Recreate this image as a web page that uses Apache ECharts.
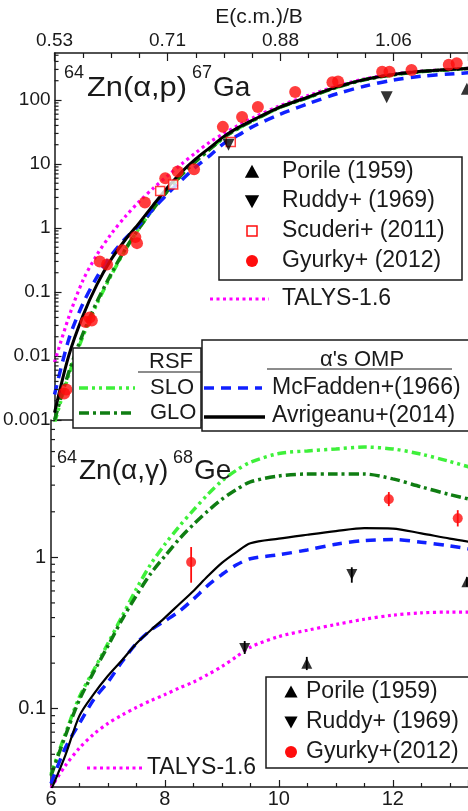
<!DOCTYPE html>
<html>
<head>
<meta charset="utf-8">
<script src="https://cdn.jsdelivr.net/npm/echarts@6/dist/echarts.min.js"></script>
<style>
  html, body { margin: 0; padding: 0; background: #fff; }
  #chart { width: 468px; height: 811px; }
</style>
</head>
<body>
<div id="chart"></div>
<script>
// ---- energy grid (MeV, c.m.) on which the model curves are tabulated ----
const energy = [6.0, 6.25, 6.5, 6.75, 7.0, 7.25, 7.5, 7.75, 8.0, 8.25, 8.5, 8.75, 9.0, 9.25, 9.5, 10.0, 10.5, 11.0, 11.5, 12.0, 12.5, 13.0, 13.5];

// ---- 64Zn(a,p)67Ga cross sections (mb) ----
const apSLO        = [0.0009, 0.005, 0.02, 0.065, 0.18, 0.45, 1.0, 2.0, 3.8, 6.8, 11, 17, 26, 36, 47, 77, 110, 158, 208, 248, 278, 298, 316];
const apGLO        = [0.001, 0.0055, 0.022, 0.07, 0.19, 0.46, 1.0, 2.0, 3.8, 6.8, 11, 17, 26, 36, 47, 77, 110, 158, 208, 248, 278, 298, 316];
const apMcFadden   = [0.0025, 0.018, 0.065, 0.17, 0.37, 0.68, 1.12, 2.0, 3.4, 5.6, 9, 13.5, 21, 28, 38, 60, 88, 125, 165, 205, 235, 255, 272];
const apAvrigeanu  = [0.0013, 0.01, 0.042, 0.13, 0.32, 0.65, 1.2, 2.3, 4.3, 7.5, 12, 18, 27, 37, 48, 78, 112, 160, 210, 250, 280, 300, 318];
const apTALYS      = [0.008, 0.04, 0.15, 0.38, 0.8, 1.5, 2.6, 4.2, 6.5, 10, 15, 22, 30, 40, 52, 82, 118, 165, 215, 255, 283, 302, 320];

// measurements [E, sigma]
const apPorile  = [[13.3, 150]];
const apRuddy   = [[9.08, 20], [11.88, 110]];
const apScuderi = [[7.87, 3.8], [8.1, 4.8], [9.12, 22]];
const apGyurky  = [[6.17, 0.0026], [6.21, 0.003], [6.55, 0.034], [6.62, 0.04], [6.66, 0.036], [6.8, 0.3], [6.93, 0.27],
                   [7.2, 0.45], [7.43, 0.72], [7.46, 0.58], [7.6, 2.5], [7.96, 6.0], [8.18, 7.6], [8.47, 8.3],
                   [8.98, 38], [9.32, 54], [9.6, 78], [10.26, 133], [10.92, 190], [11.02, 195], [11.8, 275],
                   [11.93, 275], [12.32, 295], [12.98, 355], [13.12, 375]];

// ---- 64Zn(a,g)68Ge cross sections (mb) ----
const agSLO        = [0.037, 0.068, 0.12, 0.18, 0.27, 0.41, 0.62, 0.9, 1.22, 1.6, 2.05, 2.6, 3.2, 3.75, 4.25, 4.85, 5.05, 5.2, 5.35, 5.2, 4.8, 4.3, 3.8];
const agGLO        = [0.036, 0.066, 0.115, 0.175, 0.26, 0.39, 0.56, 0.78, 1.02, 1.32, 1.65, 2.02, 2.42, 2.8, 3.15, 3.45, 3.55, 3.55, 3.55, 3.3, 2.92, 2.6, 2.35];
const agMcFadden   = [0.032, 0.055, 0.08, 0.115, 0.15, 0.205, 0.27, 0.33, 0.38, 0.44, 0.53, 0.65, 0.77, 0.89, 0.98, 1.04, 1.12, 1.22, 1.29, 1.31, 1.26, 1.19, 1.11];
const agAvrigeanu  = [0.029, 0.049, 0.09, 0.125, 0.165, 0.21, 0.27, 0.33, 0.4, 0.49, 0.6, 0.75, 0.92, 1.08, 1.24, 1.33, 1.41, 1.49, 1.56, 1.55, 1.44, 1.33, 1.24];
const agTALYS      = [0.03, 0.042, 0.055, 0.068, 0.08, 0.091, 0.102, 0.113, 0.124, 0.137, 0.15, 0.168, 0.19, 0.22, 0.255, 0.3, 0.33, 0.36, 0.39, 0.415, 0.43, 0.435, 0.435];

// measurements [E, sigma, low, high]
const agPorile = [[10.49, 0.2, 0.18, 0.22], [13.3, 0.69, 0.64, 0.74]];
const agRuddy  = [[9.4, 0.25, 0.23, 0.28], [11.28, 0.77, 0.68, 0.86]];
const agGyurky = [[8.46, 0.93, 0.68, 1.17], [11.93, 2.42, 2.18, 2.7], [13.14, 1.81, 1.6, 2.05]];

// ---- axes ----
const E_MIN = 6, E_MAX = 13.32;
const energyTicks  = [6, 8, 10, 12];
const energyLabels = ['6', '8', '10', '12'];
const ebLabels     = ['0.53', '0.71', '0.88', '1.06'];      // E(c.m.)/B at the same ticks
const apYMin = 0.001, apYMax = 542;
const apYTicks  = [0.001, 0.01, 0.1, 1, 10, 100];
const apYLabels = ['0.001', '0.01', '0.1', '1', '10', '100'];
const agYMin = 0.0304, agYMax = 8.08;
const agYTicks  = [0.1, 1];
const agYLabels = ['0.1', '1'];

const FONT = 'Liberation Sans, Arial, Helvetica, sans-serif';
const INK = '#1a1a1a';
const C = { slo: '#3ef03a', glo: '#0f7d12', mcf: '#1020ff', avr: '#000000', talys: '#ff00ff', red: '#ff0d0d' };
const STY = {
  slo:   { color: C.slo,   width: 3.5, type: [9, 4, 3, 4, 3, 4] },
  glo:   { color: C.glo,   width: 3.5, type: [10, 4, 3, 4] },
  mcf:   { color: C.mcf,   width: 3.5, type: [10, 7] },
  talys: { color: C.talys, width: 3.2, type: [3, 3.5] }
};

function minorDecades(lo, hi) {
  const out = [];
  for (let k = Math.floor(Math.log10(lo)); k <= Math.ceil(Math.log10(hi)); k++) {
    for (let m = 2; m <= 9; m++) {
      const v = m * Math.pow(10, k);
      if (v > lo && v < hi) out.push(v);
    }
  }
  return out;
}
const apMinor = minorDecades(apYMin, apYMax);
const agMinor = minorDecades(agYMin, agYMax);

function labelFor(ticks, labels) {
  return function (v) {
    for (let i = 0; i < ticks.length; i++) {
      if (Math.abs(Math.log10(v) - Math.log10(ticks[i])) < 1e-6) return labels[i];
    }
    return '';
  };
}

function pairs(xs, ys) { return xs.map((x, i) => [x, ys[i]]); }

function curve(name, xi, yi, ys, ls) {
  return {
    type: 'line', name, xAxisIndex: xi, yAxisIndex: yi, data: pairs(energy, ys),
    showSymbol: false, symbol: 'none', smooth: 0.3, silent: true, z: 3,
    lineStyle: { color: ls.color, width: ls.width, type: ls.type, cap: 'butt' }
  };
}

function minorTickSeries(xi, yi, values) {
  return {
    type: 'custom', xAxisIndex: xi, yAxisIndex: yi, silent: true, z: 6, clip: false,
    data: values.map(v => [E_MIN, v]),
    renderItem: function (params, api) {
      const p = api.coord([api.value(0), api.value(1)]);
      return { type: 'line', shape: { x1: p[0], y1: p[1], x2: p[0] + 4, y2: p[1] },
               style: { stroke: INK, lineWidth: 1.2 } };
    }
  };
}

function errorBars(xi, yi, rows, color) {
  return {
    type: 'custom', xAxisIndex: xi, yAxisIndex: yi, silent: true, z: 4,
    data: rows.map(r => [r[0], r[2], r[3]]),
    renderItem: function (params, api) {
      const a = api.coord([api.value(0), api.value(1)]);
      const b = api.coord([api.value(0), api.value(2)]);
      return { type: 'line', shape: { x1: a[0], y1: a[1], x2: b[0], y2: b[1] },
               style: { stroke: color, lineWidth: 1.8 } };
    }
  };
}

const axisLine = { show: true, lineStyle: { color: INK, width: 1.5 } };

// ---- legend / annotation graphics ----
function txt(x, y, s, size, align, sx) {
  return { type: 'text', x, y, z: 20, scaleX: sx || 1,
           style: { text: s, fontSize: size, fontFamily: FONT, fill: INK, align: align || 'left', verticalAlign: 'middle' } };
}
function seg(x1, y1, x2, y2, ls) {
  return { type: 'line', z: 20, shape: { x1, y1, x2, y2 },
           style: { stroke: ls.color, lineWidth: ls.width, lineDash: ls.type === 'solid' ? null : ls.type } };
}
function box(x, y, w, h) {
  return { type: 'rect', z: 19, shape: { x, y, width: w, height: h },
           style: { fill: '#fff', stroke: INK, lineWidth: 1.5 } };
}
function triUp(cx, cy, s) {
  return { type: 'polygon', z: 20, shape: { points: [[cx, cy - s * 0.55], [cx + s * 0.55, cy + s * 0.45], [cx - s * 0.55, cy + s * 0.45]] },
           style: { fill: '#000' } };
}
function triDown(cx, cy, s) {
  return { type: 'polygon', z: 20, shape: { points: [[cx, cy + s * 0.55], [cx + s * 0.55, cy - s * 0.45], [cx - s * 0.55, cy - s * 0.45]] },
           style: { fill: '#000' } };
}
function dot(cx, cy, r) {
  return { type: 'circle', z: 20, shape: { cx, cy, r }, style: { fill: C.red } };
}

const graphics = [
  // top axis title
  txt(259, 17, 'E(c.m.)/B', 21, 'center'),
  // reaction labels
  txt(64, 73, '64', 18), txt(87, 88, 'Zn(α,p)', 28, 'left', 1.1), txt(192, 73, '67', 18), txt(213, 88, 'Ga', 28),
  txt(57, 458, '64', 18), txt(79, 471, 'Zn(α,γ)', 28), txt(173, 458, '68', 18), txt(194, 471, 'Ge', 28),

  // (a,p) data legend
  box(219, 157, 243, 123),
  triUp(252, 172, 13), txt(282, 172, 'Porile (1959)', 23),
  triDown(252, 201, 13), txt(282, 201, 'Ruddy+ (1969)', 23),
  { type: 'rect', z: 20, shape: { x: 247, y: 226, width: 10, height: 10 }, style: { fill: '#fff', stroke: C.red, lineWidth: 1.5 } },
  txt(282, 231, 'Scuderi+ (2011)', 23),
  dot(252, 261, 6), txt(282, 261, 'Gyurky+ (2012)', 23),
  seg(210, 299, 269, 299, STY.talys), txt(282, 299, 'TALYS-1.6', 23),

  // RSF legend
  box(73, 348, 128, 80),
  txt(193, 362, 'RSF', 22, 'right'),
  { type: 'line', z: 20, shape: { x1: 138, y1: 372, x2: 201, y2: 372 }, style: { stroke: INK, lineWidth: 1.2 } },
  seg(79, 388, 135, 388, STY.slo), txt(150, 388, 'SLO', 22),
  seg(79, 413, 135, 413, STY.glo), txt(150, 413, 'GLO', 22),

  // alpha OMP legend
  box(202, 340, 290, 91),
  txt(362, 360, 'α\'s OMP', 22, 'center'),
  { type: 'line', z: 20, shape: { x1: 267, y1: 369, x2: 452, y2: 369 }, style: { stroke: INK, lineWidth: 1.2 } },
  seg(204, 388, 262, 388, STY.mcf), txt(272, 388, 'McFadden+(1966)', 23),
  seg(204, 417, 265, 417, { color: '#000', width: 3.5, type: 'solid' }), txt(272, 416, 'Avrigeanu+(2014)', 23),

  // (a,g) data legend
  box(266, 677, 240, 91),
  triUp(291, 692, 12), txt(306, 692, 'Porile (1959)', 23),
  triDown(291, 722, 12), txt(306, 722, 'Ruddy+ (1969)', 23),
  dot(291, 752, 6), txt(306, 752, 'Gyurky+(2012)', 23),
  seg(87, 768, 143, 768, STY.talys), txt(147, 768, 'TALYS-1.6', 23)
];

const option = {
  animation: false,
  backgroundColor: '#fff',
  textStyle: { fontFamily: FONT },
  grid: [
    { left: 51, top: 53, width: 417, height: 367 },
    { left: 51, top: 420, width: 417, height: 367 }
  ],
  xAxis: [
    { gridIndex: 0, type: 'value', position: 'top', min: E_MIN, max: E_MAX, interval: 2,
      axisLine, splitLine: { show: false },
      axisTick: { inside: true, length: 8, lineStyle: { color: INK, width: 1.2 } },
      minorTick: { show: true, splitNumber: 4, length: 5, lineStyle: { color: INK, width: 1.2 } },
      axisLabel: { fontSize: 19, color: INK, margin: 3, fontFamily: FONT, showMaxLabel: false,
                   formatter: v => { const i = energyTicks.indexOf(v); return i >= 0 ? ebLabels[i] : ''; } } },
    { gridIndex: 0, type: 'value', position: 'bottom', min: E_MIN, max: E_MAX,
      axisLine, axisTick: { show: false }, axisLabel: { show: false }, splitLine: { show: false } },
    { gridIndex: 1, type: 'value', position: 'bottom', min: E_MIN, max: E_MAX, interval: 2,
      axisLine, splitLine: { show: false },
      axisTick: { inside: true, length: 7, lineStyle: { color: INK, width: 1.2 } },
      minorTick: { show: true, splitNumber: 4, length: 4, lineStyle: { color: INK, width: 1.2 } },
      axisLabel: { fontSize: 20, color: INK, margin: 2, fontFamily: FONT, showMaxLabel: false,
                   formatter: v => { const i = energyTicks.indexOf(v); return i >= 0 ? energyLabels[i] : ''; } } }
  ],
  yAxis: [
    { gridIndex: 0, type: 'log', logBase: 10, min: apYMin, max: apYMax,
      axisLine, splitLine: { show: false },
      axisTick: { inside: true, length: 7, lineStyle: { color: INK, width: 1.2 } },
      axisLabel: { fontSize: 19, color: INK, margin: 4, fontFamily: FONT, showMaxLabel: false,
                   formatter: labelFor(apYTicks, apYLabels) } },
    { gridIndex: 1, type: 'log', logBase: 10, min: agYMin, max: agYMax,
      axisLine, splitLine: { show: false },
      axisTick: { inside: true, length: 7, lineStyle: { color: INK, width: 1.2 } },
      axisLabel: { fontSize: 20, color: INK, margin: 5, fontFamily: FONT, showMaxLabel: false, showMinLabel: false,
                   formatter: labelFor(agYTicks, agYLabels) } }
  ],
  series: [
    minorTickSeries(0, 0, apMinor),
    minorTickSeries(2, 1, agMinor),

    curve('TALYS-1.6', 0, 0, apTALYS, STY.talys),
    curve('SLO', 0, 0, apSLO, STY.slo),
    curve('GLO', 0, 0, apGLO, STY.glo),
    curve('McFadden+(1966)', 0, 0, apMcFadden, STY.mcf),
    curve('Avrigeanu+(2014)', 0, 0, apAvrigeanu, { color: '#000', width: 3, type: 'solid' }),

    curve('TALYS-1.6', 2, 1, agTALYS, STY.talys),
    curve('SLO', 2, 1, agSLO, STY.slo),
    curve('GLO', 2, 1, agGLO, STY.glo),
    curve('McFadden+(1966)', 2, 1, agMcFadden, STY.mcf),
    curve('Avrigeanu+(2014)', 2, 1, agAvrigeanu, { color: '#000', width: 2.2, type: 'solid' }),

    { type: 'scatter', name: 'Gyurky+ (2012)', xAxisIndex: 0, yAxisIndex: 0, data: apGyurky, z: 5,
      symbol: 'circle', symbolSize: 12, itemStyle: { color: C.red } },
    { type: 'scatter', name: 'Scuderi+ (2011)', xAxisIndex: 0, yAxisIndex: 0, data: apScuderi, z: 5,
      symbol: 'rect', symbolSize: 9, itemStyle: { color: '#fff', borderColor: C.red, borderWidth: 1.5 } },
    { type: 'scatter', name: 'Ruddy+ (1969)', xAxisIndex: 0, yAxisIndex: 0, data: apRuddy, z: 5,
      symbol: 'triangle', symbolRotate: 180, symbolSize: 12, itemStyle: { color: '#000' } },
    { type: 'scatter', name: 'Porile (1959)', xAxisIndex: 0, yAxisIndex: 0, data: apPorile, z: 5,
      symbol: 'triangle', symbolSize: 12, itemStyle: { color: '#000' } },

    errorBars(2, 1, agGyurky, C.red),
    errorBars(2, 1, agRuddy, '#000'),
    errorBars(2, 1, agPorile, '#000'),
    { type: 'scatter', name: 'Gyurky+(2012)', xAxisIndex: 2, yAxisIndex: 1, data: agGyurky.map(r => [r[0], r[1]]), z: 5,
      symbol: 'circle', symbolSize: 10, itemStyle: { color: C.red } },
    { type: 'scatter', name: 'Ruddy+ (1969)', xAxisIndex: 2, yAxisIndex: 1, data: agRuddy.map(r => [r[0], r[1]]), z: 5,
      symbol: 'triangle', symbolRotate: 180, symbolSize: 11, itemStyle: { color: '#000' } },
    { type: 'scatter', name: 'Porile (1959)', xAxisIndex: 2, yAxisIndex: 1, data: agPorile.map(r => [r[0], r[1]]), z: 5,
      symbol: 'triangle', symbolSize: 11, itemStyle: { color: '#000' } }
  ],
  graphic: { elements: graphics }
};

const chart = echarts.init(document.getElementById('chart'), null, { renderer: 'canvas' });
chart.setOption(option);
</script>
</body>
</html>
